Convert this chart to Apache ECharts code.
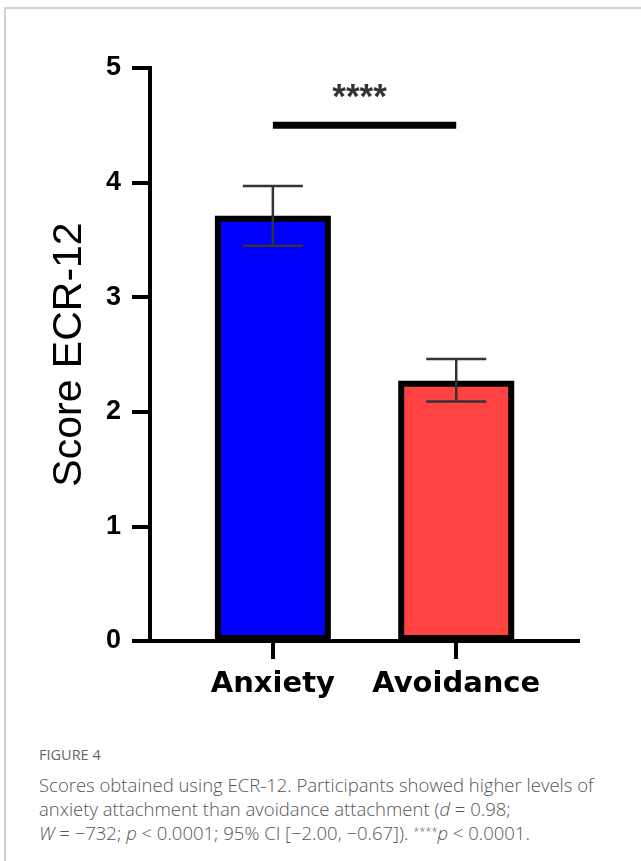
<!DOCTYPE html>
<html>
<head>
<meta charset="utf-8">
<script src="https://cdn.jsdelivr.net/npm/echarts@6/dist/echarts.min.js"></script>
<style>
  html, body { margin: 0; padding: 0; background: #fff; overflow: hidden; }
  body { width: 641px; height: 861px; position: relative; }
  #frame {
    position: absolute; left: 4px; top: 7px; width: 700px; height: 900px;
    border-left: 2px solid #d2d2d2; border-top: 2px solid #d2d2d2;
  }
  #chart { position: absolute; left: 0; top: 0; width: 641px; height: 720px; }
  #fig-label {
    position: absolute; left: 39px; top: 745px;
    font-family: 'Open Sans', sans-serif; font-size: 14.5px; color: #666;
    white-space: nowrap;
  }
  #caption {
    position: absolute; left: 39px; top: 773px;
    font-family: 'Open Sans', sans-serif; font-weight: 300; font-size: 18.5px; line-height: 24px;
    color: #555; white-space: nowrap;
  }
  #caption sup { font-size: 11px; vertical-align: 5px; line-height: 0; }
</style>
</head>
<body>
<div id="frame"></div>
<div id="chart"></div>
<div id="fig-label">FIGURE 4</div>
<div id="caption">Scores obtained using ECR-12. Participants showed higher levels of<br>anxiety attachment than avoidance attachment (<i>d</i> = 0.98;<br><i>W</i> = −732; <i>p</i> &lt; 0.0001; 95% CI [−2.00, −0.67]). <sup>****</sup><i>p</i> &lt; 0.0001.</div>
<script>
// ECR-12 subscale scores (mean with error bars)
const categories = ['Anxiety', 'Avoidance'];
const meanScores = [3.71, 2.27];
const errLow = [3.45, 2.09];
const errHigh = [3.97, 2.46];
const barColors = ['#0000ff', '#ff4242'];
const yTickValues = [0, 1, 2, 3, 4, 5];

// significance bracket between the two groups
const sigFrom = 0;
const sigTo = 1;
const sigLevel = 4.5;
const sigText = '****';

const chart = echarts.init(document.getElementById('chart'), null, { renderer: 'canvas' });

const catPositions = categories.map((c, i) => i);

const option = {
  animation: false,
  backgroundColor: 'transparent',
  grid: { left: 150, right: 61, top: 68, bottom: 79 },
  xAxis: {
    type: 'value',
    min: -0.67,
    max: 1.675,
    splitLine: { show: false },
    axisLine: { show: true, onZero: false, lineStyle: { color: '#000', width: 4, cap: 'butt' } },
    axisTick: {
      show: true, inside: false, length: 18,
      customValues: catPositions,
      lineStyle: { color: '#000', width: 4 }
    },
    axisLabel: {
      customValues: catPositions,
      formatter: v => categories[Math.round(v)] || '',
      margin: 29,
      color: '#000',
      fontFamily: 'DejaVu Sans',
      fontWeight: 'bold',
      fontSize: 29
    }
  },
  yAxis: {
    type: 'value',
    min: yTickValues[0],
    max: yTickValues[yTickValues.length - 1],
    interval: 1,
    name: 'Score ECR-12',
    nameLocation: 'middle',
    nameRotate: 90,
    nameGap: 60,
    nameTextStyle: {
      color: '#000',
      fontFamily: 'Liberation Sans',
      fontSize: 41
    },
    splitLine: { show: false },
    axisLine: { show: true, onZero: false, lineStyle: { color: '#000', width: 4, cap: 'square' } },
    axisTick: { show: true, inside: false, length: 18, lineStyle: { color: '#000', width: 4 } },
    axisLabel: {
      margin: 29,
      color: '#000',
      fontFamily: 'Liberation Sans',
      fontWeight: 'bold',
      fontSize: 27
    }
  },
  series: [
    {
      name: 'Score',
      type: 'bar',
      barWidth: 116,
      data: meanScores.map((v, i) => ({
        value: [i, v],
        itemStyle: { color: barColors[i], borderColor: '#000', borderWidth: 6 }
      })),
      z: 2
    },
    {
      name: 'Error',
      type: 'custom',
      z: 5,
      data: categories.map((c, i) => [i, errLow[i], errHigh[i]]),
      renderItem: function (params, api) {
        const x = api.value(0);
        const top = api.coord([x, api.value(2)]);
        const bot = api.coord([x, api.value(1)]);
        const half = 30;
        const style = { stroke: '#333', lineWidth: 2.5 };
        return {
          type: 'group',
          children: [
            { type: 'line', shape: { x1: top[0], y1: top[1], x2: bot[0], y2: bot[1] }, style: style },
            { type: 'line', shape: { x1: top[0] - half, y1: top[1], x2: top[0] + half, y2: top[1] }, style: style },
            { type: 'line', shape: { x1: bot[0] - half, y1: bot[1], x2: bot[0] + half, y2: bot[1] }, style: style }
          ]
        };
      }
    },
    {
      name: 'Significance',
      type: 'line',
      symbol: 'none',
      silent: true,
      z: 6,
      lineStyle: { color: '#000', width: 7, cap: 'butt' },
      data: [[sigFrom, sigLevel], [sigTo, sigLevel]]
    },
    {
      name: 'Stars',
      type: 'scatter',
      symbolSize: 0,
      silent: true,
      z: 6,
      data: [[(sigFrom + sigTo) / 2, sigLevel]],
      label: {
        show: true,
        position: 'top',
        distance: 9,
        offset: [-5, 0],
        formatter: sigText,
        color: '#000',
        fontFamily: 'Liberation Sans',
        fontWeight: 'bold',
        fontSize: 35
      }
    }
  ]
};

chart.setOption(option);
</script>
</body>
</html>
